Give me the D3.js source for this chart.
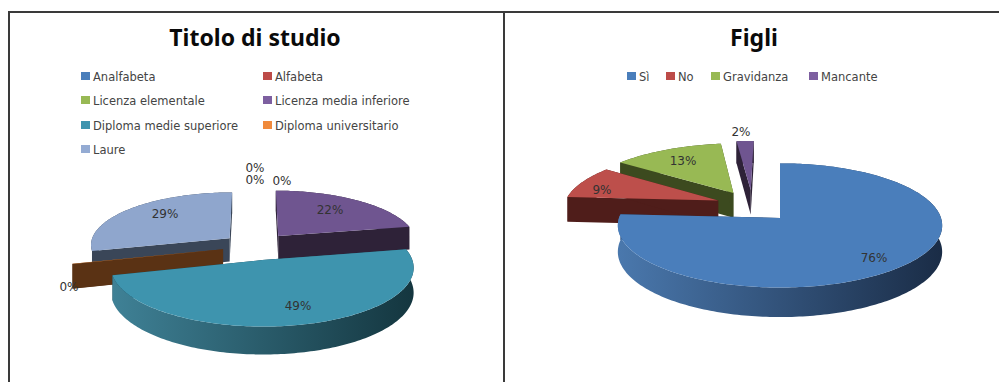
<!DOCTYPE html>
<html>
<head>
<meta charset="utf-8">
<script src="https://cdn.jsdelivr.net/npm/d3@7/dist/d3.min.js"></script>
<style>
  html, body { margin: 0; padding: 0; background: #fff; overflow: hidden; }
  svg { display: block; }
  .title { font-family: "Noto Sans", sans-serif; font-weight: 700; font-size: 23px; fill: #0a0a0a; text-anchor: middle; }
  .legend text { font-family: "DejaVu Sans", sans-serif; font-size: 11.5px; fill: #444; }
  .value { font-family: "DejaVu Sans", sans-serif; font-size: 12px; fill: #333; text-anchor: middle; }
</style>
</head>
<body>
<svg id="chart" width="999" height="382"></svg>
<script>
// Chart data
const studioCategories = ["Analfabeta", "Alfabeta", "Licenza elementale", "Licenza media inferiore",
                          "Diploma medie superiore", "Diploma universitario", "Laure"];
const studioValues = [0, 0, 0, 22, 49, 0.1, 29];
const figliCategories = ["Sì", "No", "Gravidanza", "Mancante"];
const figliValues = [76, 9, 13, 2];

// Palette: top face, cut-wall shade, rim gradient start and end
const palette = {
  blue:   { top: "#4a7ebb", wall: "#1f3350", rimA: "#4a78ad", rimB: "#1a2c46", key: "#4a7ebb" },
  red:    { top: "#bd4f4b", wall: "#4f1d1a", rimA: "#4f1d1a", rimB: "#4f1d1a", key: "#bd4b48" },
  green:  { top: "#98b954", wall: "#3c4a1f", rimA: "#3c4a1f", rimB: "#3c4a1f", key: "#98b954" },
  purple: { top: "#6f5590", wall: "#2e2238", rimA: "#2e2238", rimB: "#2e2238", key: "#7d5fa0" },
  teal:   { top: "#3e94ae", wall: "#17404c", rimA: "#3f8196", rimB: "#14363f", key: "#3e94ae" },
  orange: { top: "#f79646", wall: "#5a3214", rimA: "#5a3214", rimB: "#5a3214", key: "#f08a3c" },
  sky:    { top: "#8fa6cd", wall: "#3a4658", rimA: "#3a4658", rimB: "#3a4658", key: "#94abd3" }
};
const studioColors = ["blue", "red", "green", "purple", "teal", "orange", "sky"];
const figliColors = ["blue", "red", "green", "purple"];

// Pie geometry: centre, radius, tilt, perspective, thickness.
// Each slice has its own explosion offset and paint order (far slices first).
const studioPie = {
  cx: 254, cy: 250, R: 147, tilt: 0.38, persp: 0.12, depth: 24,
  slices: { 3: { X: 25, Y: 38, r: 141 }, 4: { X: 8, Y: -26, r: 147 },
            5: { X: -31, Y: 2, r: 150 }, 6: { X: -25, Y: 32, r: 141 } },
  order: [3, 6, 5, 4],
  labels: [[255, 168], [255, 180], [282, 181], [330, 210], [298, 306], [69, 287], [165, 214]]
};
const figliPie = {
  cx: 780, cy: 218, R: 161, tilt: 0.38, persp: 0.12, depth: 26,
  slices: { 0: { X: 0, Y: 0, r: 161 }, 1: { X: -64, Y: 48, r: 158 },
            2: { X: -49, Y: 69, r: 161 }, 3: { X: -31, Y: 78, r: 161 } },
  order: [3, 2, 1, 0],
  labels: [[874, 258], [602, 190], [683, 161], [741, 132]]
};

const svg = d3.select("#chart");
const defs = svg.append("defs");

// Frame around the two panels
const frame = svg.append("g").attr("fill", "none").attr("stroke", "#3a3a3a").attr("stroke-width", 2);
frame.append("path").attr("d", "M9,382V12H999");
frame.append("path").attr("d", "M504,12V382");

function drawPie(spec, categories, values, colorNames, id) {
  const g = svg.append("g");
  const arcs = d3.pie().sort(null).value(d => d)(values);
  const total = d3.sum(values);
  const pct = d3.format(".0%");
  const line = d3.line();

  // Disc coordinates to the screen, with near points spreading outward
  const project = (x, y, lift) => {
    const w = 1 / (1 + spec.persp * y / spec.R);
    return [spec.cx + x * w, spec.cy - y * spec.tilt * w + lift * spec.depth * w];
  };

  spec.order.forEach(i => {
    const a = arcs[i], s = spec.slices[i], c = palette[colorNames[i]];
    if (a.endAngle - a.startAngle <= 0) return;
    const rim = (t) => [s.X + s.r * Math.sin(t), s.Y + s.r * Math.cos(t)];
    const count = Math.max(2, Math.ceil((a.endAngle - a.startAngle) / 0.02));
    const angles = d3.range(count + 1).map(k => a.startAngle + (a.endAngle - a.startAngle) * k / count);
    const edge = lift => angles.map(t => { const p = rim(t); return project(p[0], p[1], lift); });
    const apex = lift => project(s.X, s.Y, lift);

    // Radial cut walls
    [a.startAngle, a.endAngle].forEach(t => {
      const p = rim(t);
      g.append("path")
        .attr("d", line([apex(0), project(p[0], p[1], 0), project(p[0], p[1], 1), apex(1)]) + "Z")
        .attr("fill", c.wall);
    });

    // Outer rim, shaded from left to right
    const gid = `${id}-rim-${i}`;
    const grad = defs.append("linearGradient").attr("id", gid);
    grad.append("stop").attr("offset", "0%").attr("stop-color", c.rimA);
    grad.append("stop").attr("offset", "100%").attr("stop-color", c.rimB);
    g.append("path")
      .attr("d", line(edge(0).concat(edge(1).reverse())) + "Z")
      .attr("fill", `url(#${gid})`);

    // Top face
    g.append("path")
      .attr("d", line([apex(0)].concat(edge(0))) + "Z")
      .attr("fill", c.top);
  });

  // Percentage labels
  g.selectAll("text.value").data(arcs).join("text")
    .attr("class", "value")
    .attr("x", (d, i) => spec.labels[i][0])
    .attr("y", (d, i) => spec.labels[i][1] + 4)
    .text(d => pct(d.value / total));
}

function drawLegend(items, colorNames, positions) {
  const g = svg.append("g").attr("class", "legend");
  const row = g.selectAll("g").data(items).join("g")
    .attr("transform", (d, i) => `translate(${positions[i][0]},${positions[i][1]})`);
  row.append("rect").attr("x", 0).attr("y", -4).attr("width", 9).attr("height", 8)
    .attr("fill", (d, i) => palette[colorNames[i]].key);
  row.append("text").attr("x", 12).attr("y", 4.5).text(d => d);
}

svg.append("text").attr("class", "title").attr("x", 255).attr("y", 46).text("Titolo di studio");
svg.append("text").attr("class", "title").attr("x", 754).attr("y", 46).text("Figli");

drawLegend(studioCategories, studioColors,
  [[81, 76], [263, 76], [81, 100], [263, 100], [81, 125], [263, 125], [81, 149]]);
drawLegend(figliCategories, figliColors, [[627, 76], [666, 76], [711, 76], [809, 76]]);

drawPie(studioPie, studioCategories, studioValues, studioColors, "studio");
drawPie(figliPie, figliCategories, figliValues, figliColors, "figli");
</script>
</body>
</html>
